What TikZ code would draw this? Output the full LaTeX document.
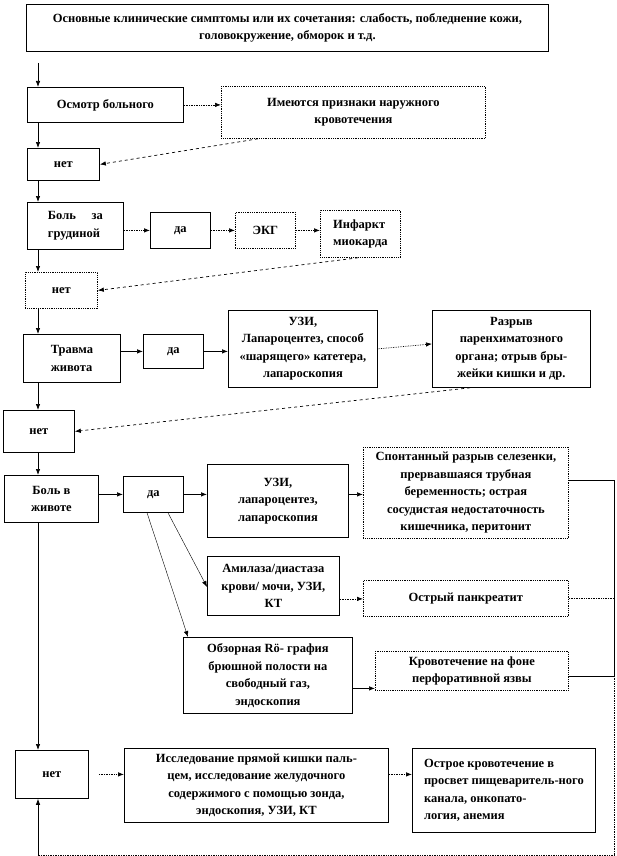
\documentclass[tikz,border=0pt]{standalone}
\usepackage{fontspec}
\setmainfont{Liberation Serif}
\usetikzlibrary{arrows.meta}

\tikzset{
  box/.style={draw, line width=0.8pt, anchor=north west, align=center,
              inner sep=2pt, font=\bfseries\fontsize{12.5}{17.5}\selectfont},
  dbox/.style={box, densely dotted},
  arr/.style={-{Latex[length=6pt,width=4.5pt]}, line width=0.7pt},
  dotarr/.style={arr, densely dotted},
  dasharr/.style={arr, dashed}
}

\begin{document}
\begin{tikzpicture}[x=1pt, y=-1pt]
  \useasboundingbox (0,0) rectangle (617,856);

  % symptoms and first check
  \node[box, minimum width=522pt, minimum height=47pt] (symp) at (26,4)
    {Основные клинические симптомы или их сочетания: слабость, побледнение кожи,\\
     головокружение, обморок и т.д.};
  \coordinate (start) at (38,63);
  \node[box, minimum width=156pt, minimum height=35pt] (osmotr) at (27,87) {Осмотр больного};
  \node[dbox, minimum width=264pt, minimum height=52pt] (priznaki) at (221,86)
    {Имеются признаки наружного\\ кровотечения};
  \node[box, minimum width=72pt, minimum height=32pt] (net1) at (27,148) {нет};

  % chest pain
  \node[box, minimum width=96pt, minimum height=47pt, align=left] (chest) at (27,202)
    {Боль\quad\ за\\ грудиной};
  \node[box, minimum width=60pt, minimum height=36pt] (da1) at (150,212) {да};
  \node[dbox, minimum width=60pt, minimum height=36pt] (ekg) at (235,212) {ЭКГ};
  \node[dbox, minimum width=80pt, minimum height=47pt, align=left] (infarkt) at (320,210)
    {Инфаркт\\ миокарда};
  \node[dbox, minimum width=72pt, minimum height=36pt] (net2) at (25,272) {нет};

  % abdominal trauma
  \node[box, minimum width=97pt, minimum height=48pt, align=left] (trauma) at (23,334)
    {Травма\\ живота};
  \node[box, minimum width=60pt, minimum height=34pt] (da2) at (143,334) {да};
  \node[box, minimum width=149pt, minimum height=77pt] (uzi1) at (228,310)
    {УЗИ,\\ Лапароцентез, способ\\ «шарящего» катетера,\\ лапароскопия};
  \node[box, minimum width=158pt, minimum height=77pt] (razryv) at (432,310)
    {Разрыв\\ паренхиматозного\\ органа; отрыв бры-\\ жейки кишки и др.};
  \node[box, minimum width=71pt, minimum height=42pt] (net3) at (3,410) {нет};

  % abdominal pain
  \node[box, minimum width=94pt, minimum height=47pt] (belly) at (4,475) {Боль в\\ животе};
  \node[box, minimum width=60pt, minimum height=36pt] (da3) at (123,476) {да};
  \node[box, minimum width=141pt, minimum height=73pt] (uzi2) at (207,464)
    {УЗИ,\\ лапароцентез,\\ лапароскопия};
  \node[dbox, minimum width=205pt, minimum height=91pt] (spont) at (363,447)
    {Спонтанный разрыв селезенки,\\ прервавшаяся трубная\\ беременность; острая\\
     сосудистая недостаточность\\ кишечника, перитонит};
  \node[box, minimum width=132pt, minimum height=59pt] (amil) at (207,556)
    {Амилаза/диастаза\\ крови/ мочи, УЗИ,\\ КТ};
  \node[dbox, minimum width=205pt, minimum height=36pt] (pankr) at (363,580) {Острый панкреатит};
  \node[box, minimum width=169pt, minimum height=76pt] (obz) at (183,637)
    {Обзорная Rö- графия\\ брюшной полости на\\ свободный газ,\\ эндоскопия};
  \node[dbox, minimum width=193pt, minimum height=39pt] (krov) at (375,651)
    {Кровотечение на фоне\\ перфоративной язвы};

  % other causes
  \node[box, minimum width=73pt, minimum height=48pt] (net4) at (15,750) {нет};
  \node[box, minimum width=264pt, minimum height=74pt] (issl) at (124,748)
    {Исследование прямой кишки паль-\\ цем, исследование желудочного\\
     содержимого с помощью зонда,\\ эндоскопия, УЗИ, КТ};
  \node[box, minimum width=183pt, minimum height=84pt, align=left] (ostr) at (412,748)
    {Острое кровотечение в\\ просвет пищеваритель-ного\\ канала, онкопато-\\ логия, анемия};

  \coordinate (rail) at (614,0);
  \coordinate (corner) at (614,855);
  \coordinate (back) at (38,855);

  % main line
  \draw[arr] (start) -- (osmotr.north -| start);
  \draw[arr] (osmotr.south -| start) -- (net1.north -| start);
  \draw[arr] (net1.south -| start) -- (chest.north -| start);
  \draw[arr] (chest.south -| start) -- (net2.north -| start);
  \draw[arr] (net2.south -| start) -- (trauma.north -| start);
  \draw[arr] (trauma.south -| start) -- (net3.north -| start);
  \draw[arr] (net3.south -| start) -- (belly.north -| start);
  \draw[arr] (belly.south -| start) -- (net4.north -| start);

  \draw[dotarr] (osmotr.east) -- (osmotr.east -| priznaki.west);
  \draw[dasharr] ([xshift=37pt]priznaki.south west) -- (net1.east);

  \draw[dotarr] (chest.east |- da1.east) -- (da1.west);
  \draw[dotarr] (da1.east) -- (ekg.west);
  \draw[dotarr] (ekg.east) -- (ekg.east -| infarkt.west);
  \draw[dasharr] ([xshift=38pt]infarkt.south west) -- (net2.east);

  \draw[arr] (trauma.east |- da2.east) -- (da2.west);
  \draw[arr] (da2.east) -- (da2.east -| uzi1.west);
  \draw[dotarr] (uzi1.east) -- ([yshift=5pt]razryv.west);
  \draw[dasharr] ([xshift=38pt]razryv.south west) -- (net3.east);

  \draw[arr] (belly.east |- da3.east) -- (da3.west);
  \draw[arr] (da3.east) -- (da3.east -| uzi2.west);
  \draw[arr] (da3.east -| uzi2.east) -- (da3.east -| spont.west);
  \draw[arr, line width=0.4pt] ([xshift=45pt]da3.south west) -- ([yshift=-1pt]amil.west);
  \draw[arr, line width=0.4pt] ([xshift=24pt]da3.south west) -- ([xshift=5pt]obz.north west);
  \draw[dotarr] ([yshift=-13pt]amil.east) -- ([yshift=-13pt]amil.east -| pankr.west);
  \draw[arr] ([yshift=-13pt]obz.east) -- ([yshift=-13pt]obz.east -| krov.west);

  \draw[dotarr] ([xshift=10pt]net4.east) -- (net4.east -| issl.west);
  \draw[dotarr] (net4.east -| issl.east) -- (net4.east -| ostr.west);

  % collecting rail on the right
  \draw[line width=0.7pt] ([yshift=13pt]spont.east) -- ([yshift=13pt]spont.east -| rail)
    -- ([yshift=-5pt]krov.east -| rail);
  \draw[line width=0.7pt, densely dotted] (pankr.east) -- (pankr.east -| rail);
  \draw[line width=0.7pt] ([yshift=-5pt]krov.east) -- ([yshift=-5pt]krov.east -| rail);
  \draw[line width=0.7pt, densely dotted] ([yshift=-5pt]krov.east -| rail) -- (corner) -- (back);
  \draw[arr] (back) -- (net4.south -| back);
\end{tikzpicture}
\end{document}
